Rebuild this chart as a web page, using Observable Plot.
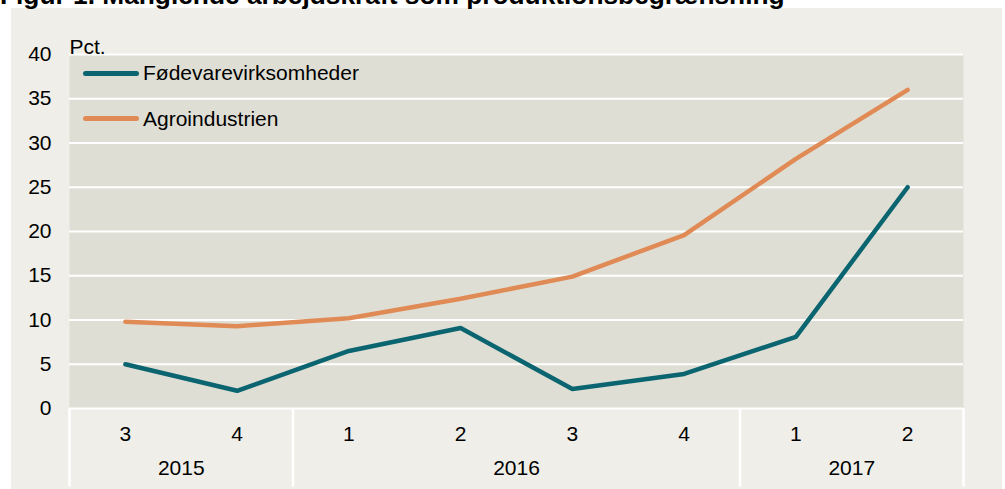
<!DOCTYPE html>
<html>
<head>
<meta charset="utf-8">
<script src="https://cdn.jsdelivr.net/npm/d3@7"></script>
<script src="https://cdn.jsdelivr.net/npm/@observablehq/plot@0.6"></script>
<style>
  html, body { margin: 0; padding: 0; background: #ffffff; }
  body { width: 1005px; height: 489px; position: relative; overflow: hidden; font-family: "Liberation Sans", Arial, sans-serif; }
  #bg { position: absolute; left: 11px; top: 8px; width: 991px; height: 481px; background: #efeee8; }
  #title { position: absolute; left: 0px; top: -17.6px; font-size: 26.3px; line-height: 26.3px; font-weight: bold; color: #000; white-space: nowrap; }
  #chart { position: absolute; left: 0; top: 0; }
  #legend { position: absolute; left: 83px; top: 61px; font-size: 21px; color: #000; }
  .row { display: flex; align-items: center; height: 24px; margin-bottom: 21.7px; }
  .sw { display: inline-block; width: 56px; height: 5px; border-radius: 3px; margin-right: 4px; }
</style>
</head>
<body>
<div id="bg"></div>
<div id="chart"></div>
<div id="title">Figur 1. Manglende arbejdskraft som produktionsbegrænsning</div>
<div id="legend"></div>
<script>
const quarters = ["3", "4", "1", "2", "3", "4", "1", "2"];
const years = ["2015", "2015", "2016", "2016", "2016", "2016", "2017", "2017"];
const seriesNames = ["Fødevarevirksomheder", "Agroindustrien"];
const foedevare = [5.0, 2.0, 6.5, 9.1, 2.2, 3.9, 8.1, 25.0];
const agro = [9.8, 9.3, 10.2, 12.4, 14.9, 19.6, 28.2, 36.0];
const yTicks = [0, 5, 10, 15, 20, 25, 30, 35, 40];
const colors = ["#0b6570", "#e08a56"];
const unitLabel = "Pct.";

const idx = quarters.map((_, i) => i);
const rows = [];
[foedevare, agro].forEach((vals, s) => vals.forEach((v, i) => rows.push({i, v, series: seriesNames[s]})));

// year groups
const yearGroups = d3.groups(idx, i => years[i]).map(([year, is]) => ({year, mid: d3.mean(is), lo: d3.min(is) - 0.5, hi: d3.max(is) + 0.5}));
const bounds = Array.from(new Set(yearGroups.flatMap(g => [g.lo, g.hi])));

const width = 1005, height = 489;
const marginTop = 54, marginBottom = 81, marginLeft = 69, marginRight = 42;
const plotH = height - marginTop - marginBottom;

const chart = Plot.plot({
  width, height, marginTop, marginBottom, marginLeft, marginRight,
  style: {fontFamily: "'Liberation Sans', Arial, sans-serif", fontSize: "21px", color: "#000", background: "transparent", overflow: "visible"},
  x: {domain: [-0.5, quarters.length - 0.5]},
  y: {domain: [0, 40]},
  color: {domain: seriesNames, range: colors},
  marks: [
    Plot.frame({fill: "#dfded4", stroke: "none"}),
    Plot.gridY(yTicks, {stroke: "#ffffff", strokeOpacity: 1, strokeWidth: 2.2}),
    Plot.ruleX(bounds, {stroke: "#ffffff", strokeWidth: 2.5, insetTop: plotH, insetBottom: -78.5}),
    Plot.axisY(yTicks, {tickSize: 0, tickPadding: 18, label: null, fontSize: 21, fill: "#000"}),
    Plot.axisX(idx, {tickSize: 0, tickPadding: 18, label: null, tickFormat: i => quarters[i], fontSize: 21, fill: "#000"}),
    Plot.text(yearGroups, {x: "mid", text: "year", frameAnchor: "bottom", dy: 66, fontSize: 21, fill: "#000"}),
    Plot.text([unitLabel], {frameAnchor: "top-left", textAnchor: "start", dy: -15.5, dx: 0, fontSize: 21, fill: "#000"}),
    Plot.line(rows, {x: "i", y: "v", z: "series", stroke: "series", strokeWidth: 4.5, strokeLinecap: "round", strokeLinejoin: "miter"})
  ]
});
document.getElementById("chart").appendChild(chart);

const legend = document.getElementById("legend");
seriesNames.forEach((name, k) => {
  const row = document.createElement("div");
  row.className = "row";
  const sw = document.createElement("span");
  sw.className = "sw";
  sw.style.background = colors[k];
  const t = document.createElement("span");
  t.textContent = name;
  row.appendChild(sw); row.appendChild(t);
  legend.appendChild(row);
});
</script>
</body>
</html>
